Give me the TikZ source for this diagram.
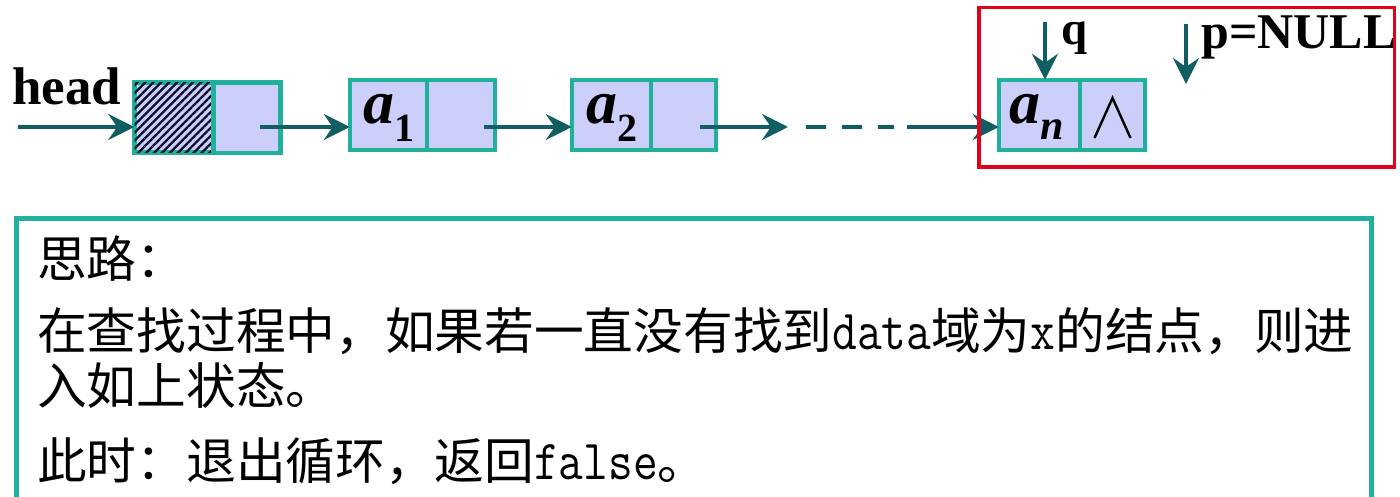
\documentclass[tikz,border=0pt]{standalone}
\usepackage{fontspec}
\usepackage{graphicx}
\setmainfont{Noto Sans CJK SC}
\newfontfamily\tnr{Liberation Serif}
\usetikzlibrary{arrows.meta,patterns.meta,calc}
\definecolor{cellborder}{HTML}{20B09B}
\definecolor{cellfill}{HTML}{CCCFFA}
\definecolor{linkcol}{HTML}{115E62}
\definecolor{redbox}{HTML}{E2001A}
\definecolor{hatchcol}{HTML}{0E0E2A}
\tikzset{
  cell/.style={draw=cellborder, fill=cellfill, line width=4.5pt, inner sep=0pt, minimum height=70pt},
  hatched/.style={postaction={pattern={Lines[angle=45,distance=5.6pt,line width=2.3pt]}, pattern color=hatchcol}},
  link/.style={draw=linkcol, line width=4pt, -{Stealth[length=26pt,width=26pt,inset=9pt]}},
  dashlink/.style={draw=linkcol, line width=4.5pt, dash pattern=on 20pt off 16pt},
  serifbold/.style={font=\tnr\bfseries\fontsize{50}{50}\selectfont, inner sep=0pt, anchor=base west},
  elem/.style={inner sep=0pt, anchor=base west},
  body/.style={inner sep=0pt, anchor=base west, font=\fontsize{49.7}{49.7}\selectfont},
}
\newcommand{\elemtxt}[1]{{\tnr\bfseries\itshape\fontsize{62}{62}\selectfont a}\raisebox{-18pt}{\tnr\bfseries\fontsize{40}{40}\selectfont #1}}
\newcommand{\monotxt}[1]{\scalebox{1}[1.18]{\ttfamily\fontsize{48}{48}\selectfont #1}}
\begin{document}
\begin{tikzpicture}[x=1pt,y=-1pt]
\clip (0,0) rectangle (1400,497);
\fill[white] (0,0) rectangle (1400,497);

% list cells
\node[cell, minimum width=79pt, hatched] (hl) at (174,117.75) {};
\node[cell, minimum width=67pt, minimum height=70.5pt] (hr) at (247,117.75) {};
\node[cell, minimum width=77pt] (a1l) at (388.5,115) {};
\node[cell, minimum width=68pt] (a1r) at (461,115) {};
\node[cell, minimum width=79pt] (a2l) at (611.5,115) {};
\node[cell, minimum width=65pt] (a2r) at (683.5,115) {};
\node[cell, minimum width=81pt] (anl) at (1039.5,115) {};
\node[cell, minimum width=65pt] (anr) at (1112.5,115) {};

% element labels
\node[elem] (t1) at (363,124) {\elemtxt{1}};
\node[elem] (t2) at (586,124) {\elemtxt{2}};
\node[elem] (tn) at (1009,124) {{\tnr\bfseries\itshape\fontsize{62}{62}\selectfont a}\raisebox{-16pt}{\tnr\bfseries\itshape\fontsize{42}{42}\selectfont n}};
% null pointer mark
\draw[line width=2.4pt, line join=miter] ($(anr.center)+(-18,23)$) -- ($(anr.center)+(0,-17)$) -- ($(anr.center)+(18,23)$);

% labels
\node[serifbold, font=\tnr\bfseries\fontsize{53}{53}\selectfont] (headlbl) at (12,105) {head};
\node[serifbold, font=\tnr\bfseries\fontsize{47}{47}\selectfont] (qlbl) at (1061,45) {q};
\node[serifbold] (plbl) at (1201,49) {p=NULL};

% connectors
\coordinate (h0) at (18,127);
\coordinate (s1) at (260,127);
\coordinate (s2) at (484,127);
\coordinate (s3) at (700,127);
\coordinate (e3) at (788,127);
\coordinate (d1) at (806,127);
\coordinate (d2) at (894,127);
\coordinate (s4) at (907,127);
\coordinate (q0) at (1045,22);
\coordinate (p0) at (1186,24);
\coordinate (p1) at (1186,84);

\draw[link, shorten >=-2pt] (h0) -- (hl.west |- h0);
\draw[link, shorten >=-2pt] (s1) -- (a1l.west |- s1);
\draw[link, shorten >=-2pt] (s2) -- (a2l.west |- s2);
\draw[link] (s3) -- (e3);
\draw[dashlink] (d1) -- (d2);
\draw[link, shorten >=-2pt] (s4) -- (anl.west |- s4);
\draw[link, shorten >=-2pt] (q0) -- (q0 |- anl.north);
\draw[link] (p0) -- (p1);

% red highlight box
\draw[redbox, line width=3.5pt] (979,7.5) rectangle (1394.5,167);

% text box
\draw[cellborder, line width=5pt, fill=white] (16.5,218.5) rectangle (1371.5,540);
\node[body] (l1) at (37,277) {思路：};
\node[body] (l2) at (37,349) {在查找过程中，如果若一直没有找到\monotxt{data}域为\monotxt{x}的结点，则进};
\node[body] (l3) at (37,404) {入如上状态。};
\node[body] (l4) at (37,479) {此时：退出循环，返回\monotxt{false}。};
\end{tikzpicture}
\end{document}
